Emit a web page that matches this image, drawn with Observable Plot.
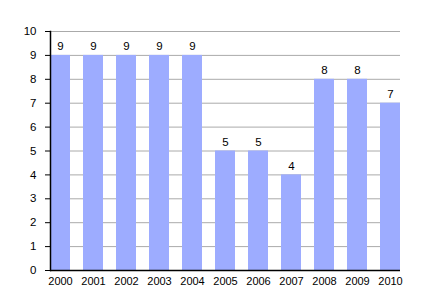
<!DOCTYPE html>
<html><head><meta charset="utf-8">
<script src="https://cdn.jsdelivr.net/npm/d3@7"></script>
<script src="https://cdn.jsdelivr.net/npm/@observablehq/plot@0.6"></script>
<style>body{margin:0;background:#fff;} svg{font-family:"Liberation Sans",Arial,sans-serif;}</style>
</head><body><div id="chart"></div>
<script>
const years = ["2000","2001","2002","2003","2004","2005","2006","2007","2008","2009","2010"];
const values = [9,9,9,9,9,5,5,4,8,8,7];
const yTicks = [0,1,2,3,4,5,6,7,8,9,10];
const data = years.map((y,i)=>({year:y, value:values[i]}));
const chart = Plot.plot({
  width:430, height:300,
  marginTop:31, marginBottom:30, marginLeft:50, marginRight:30,
  style:{fontSize:"11px", fontFamily:"Liberation Sans, Arial, sans-serif", color:"#000", background:"#fff"},
  x:{domain:years, paddingInner:0.4, paddingOuter:0, align:0, label:null},
  y:{domain:[0,10], label:null},
  marks:[
    Plot.gridY(yTicks, {stroke:"#aaa", strokeOpacity:1}),
    Plot.barY(data, {x:"year", y:"value", fill:"#9dacff"}),
    Plot.text(data, {x:"year", y:"value", text:d=>String(d.value), dy:-9, fontSize:11.5, fill:"#000"}),
    Plot.axisY(yTicks, {tickSize:5, tickPadding:9, fontSize:11.5, stroke:"#000"}),
    Plot.axisX({tickSize:0, tickPadding:7, fontSize:11}),
    Plot.frame({anchor:"left", stroke:"#000", strokeWidth:1.5}),
    Plot.ruleY([0], {stroke:"#000", strokeWidth:1.5}),
  ]
});
document.getElementById("chart").appendChild(chart);
</script></body></html>
